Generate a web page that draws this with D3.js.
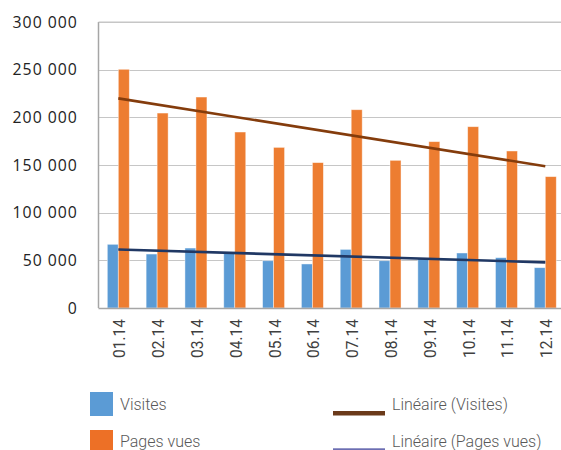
<!DOCTYPE html>
<html>
<head>
<meta charset="utf-8">
<script src="https://cdn.jsdelivr.net/npm/d3@7"></script>
<style>
  html, body { margin: 0; padding: 0; background: #fff; }
  svg { display: block; }
</style>
</head>
<body>
<svg id="chart" width="561" height="450"></svg>
<script>
// Monthly audience, 2014
const months = ["01.14","02.14","03.14","04.14","05.14","06.14","07.14","08.14","09.14","10.14","11.14","12.14"];
const visites = [66800, 56600, 62900, 57400, 49600, 46200, 61500, 49600, 52100, 57700, 52800, 42300];
const pagesVues = [250400, 204500, 221300, 184600, 168500, 152500, 208000, 154900, 174500, 190200, 164700, 137800];
const yTicks = [0, 50000, 100000, 150000, 200000, 250000, 300000];
const legendLabels = ["Visites", "Pages vues", "Linéaire (Visites)", "Linéaire (Pages vues)"];

const colors = {
  visites: "#5B9BD5",
  pages: "#ED7D31",
  trendPages: "#843C0C",
  trendVisites: "#203864",
  grid: "#c6c6c6",
  axis: "#a6a6a6",
  text: "#404040"
};

// Least-squares line through a series indexed 0..n-1
function linearFit(values) {
  const n = values.length;
  const mx = d3.mean(values, (v, i) => i);
  const my = d3.mean(values);
  let sxy = 0, sxx = 0;
  values.forEach((v, i) => { sxy += (i - mx) * (v - my); sxx += (i - mx) * (i - mx); });
  const slope = sxy / sxx;
  const icept = my - slope * mx;
  return [0, n - 1].map(i => ({ i, v: icept + slope * i }));
}

const svg = d3.select("#chart");
const plot = { left: 98.9, right: 564.7, top: 22, bottom: 308 };

const x = d3.scaleBand().domain(months).range([plot.left, plot.right]).padding(0);
const y = d3.scaleLinear().domain([0, 300000]).range([plot.bottom, plot.top]);
const barW = 11;

// Horizontal gridlines
svg.append("g")
  .selectAll("line")
  .data(yTicks.filter(t => t > 0))
  .join("line")
  .attr("x1", plot.left).attr("x2", 561)
  .attr("y1", d => Math.round(y(d)) + 0.5).attr("y2", d => Math.round(y(d)) + 0.5)
  .attr("stroke", colors.grid).attr("stroke-width", 1.2);

// Y axis labels
const fmt = v => d3.format(",")(v).replace(/,/g, " ");
const yAxis = d3.axisLeft(y).tickValues(yTicks).tickFormat(fmt).tickSize(0).tickPadding(21);
const gy = svg.append("g").attr("transform", `translate(${plot.left},0)`).call(yAxis);
gy.select(".domain").remove();
gy.selectAll("text")
  .attr("font-family", "'Open Sans', sans-serif")
  .attr("font-size", 15.8)
  .attr("letter-spacing", "1px")
  .attr("fill", "#222");

// Bars
const bars = svg.append("g");
bars.selectAll("rect.visites")
  .data(visites)
  .join("rect")
  .attr("class", "visites")
  .attr("x", (d, i) => x(months[i]) + x.bandwidth() / 2 - barW)
  .attr("y", d => y(d))
  .attr("width", barW)
  .attr("height", d => y(0) - y(d))
  .attr("fill", colors.visites)
  .attr("stroke", "#ffffff").attr("stroke-opacity", 0.55).attr("stroke-width", 0.8);

bars.selectAll("rect.pages")
  .data(pagesVues)
  .join("rect")
  .attr("class", "pages")
  .attr("x", (d, i) => x(months[i]) + x.bandwidth() / 2)
  .attr("y", d => y(d))
  .attr("width", barW)
  .attr("height", d => y(0) - y(d))
  .attr("fill", colors.pages)
  .attr("stroke", "#ffffff").attr("stroke-opacity", 0.55).attr("stroke-width", 0.8);

// Axis lines
svg.append("line")
  .attr("x1", 98.5).attr("x2", 98.5).attr("y1", plot.top).attr("y2", plot.bottom)
  .attr("stroke", colors.axis).attr("stroke-width", 1.5);
svg.append("line")
  .attr("x1", 98.5).attr("x2", 561).attr("y1", plot.bottom + 0.5).attr("y2", plot.bottom + 0.5)
  .attr("stroke", colors.axis).attr("stroke-width", 1.5);
svg.append("line")
  .attr("x1", 98.5).attr("x2", 561).attr("y1", plot.top).attr("y2", plot.top)
  .attr("stroke", colors.grid).attr("stroke-width", 1.2);

// Trend lines
const cx = i => x(months[i]) + x.bandwidth() / 2;
const line = d3.line().x(d => cx(d.i)).y(d => y(d.v));
svg.append("path")
  .datum(linearFit(pagesVues))
  .attr("d", line)
  .attr("fill", "none").attr("stroke", colors.trendPages).attr("stroke-width", 2.6);
svg.append("path")
  .datum(linearFit(visites))
  .attr("d", line)
  .attr("fill", "none").attr("stroke", colors.trendVisites).attr("stroke-width", 2.6);

// X axis labels (rotated)
const xAxis = d3.axisBottom(x).tickSize(0).tickPadding(0);
const gx = svg.append("g").attr("transform", `translate(0,${plot.bottom})`).call(xAxis);
gx.select(".domain").remove();
gx.selectAll("text")
  .attr("font-family", "Roboto, sans-serif")
  .attr("font-size", 17)
  .attr("fill", colors.text)
  .attr("text-anchor", "end")
  .attr("textLength", 39)
  .attr("lengthAdjust", "spacingAndGlyphs")
  .attr("transform", "translate(7,11) rotate(-90)")
  .attr("x", 0).attr("y", 0).attr("dy", 0);

// Legend
const legend = svg.append("g")
  .attr("font-family", "Roboto, sans-serif")
  .attr("font-weight", 300)
  .attr("font-size", 16)
  .attr("fill", "#595959");

legend.append("rect").attr("x", 90).attr("y", 392).attr("width", 23).attr("height", 24).attr("fill", "#5B9BD5");
legend.append("rect").attr("x", 90).attr("y", 430).attr("width", 23).attr("height", 24).attr("fill", "#ED7026");
legend.append("text").attr("x", 120).attr("y", 409.5).text(legendLabels[0]);
legend.append("text").attr("x", 120).attr("y", 447).text(legendLabels[1]);

legend.append("rect").attr("x", 333).attr("y", 411).attr("width", 52).attr("height", 4.5).attr("fill", "#6B3A1A");
legend.append("rect").attr("x", 333).attr("y", 448.5).attr("width", 52).attr("height", 1.2).attr("fill", "#2E3192");
legend.append("text").attr("x", 392).attr("y", 409.5).text(legendLabels[2]);
legend.append("text").attr("x", 392).attr("y", 447).text(legendLabels[3]);
</script>
</body>
</html>
